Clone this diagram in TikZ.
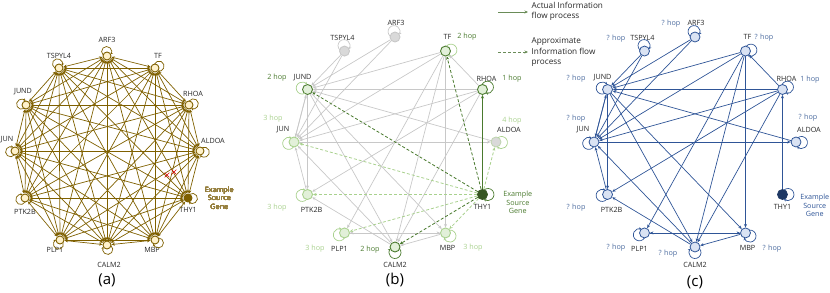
\documentclass[tikz,border=0pt]{standalone}
\usepackage{fontspec}
\setmainfont{Open Sans}
\usetikzlibrary{arrows.meta, positioning, shapes.misc}

\definecolor{gold}{HTML}{7F6000}
\definecolor{goldfill}{HTML}{FFF2CC}
\definecolor{goldtext}{HTML}{967F3E}
\definecolor{dgreen}{HTML}{4A7A2E}
\definecolor{srcgreen}{HTML}{375623}
\definecolor{lgreen}{HTML}{A9D18E}
\definecolor{greenfill}{HTML}{E2F0D9}
\definecolor{lgrey}{HTML}{C8C8C8}
\definecolor{greyfill}{HTML}{D9D9D9}
\definecolor{dblue}{HTML}{2F5597}
\definecolor{bluefill}{HTML}{DAE3F3}
\definecolor{navy}{HTML}{1F3864}
\definecolor{hopblue}{HTML}{4A6A9E}
\definecolor{legendgreen}{HTML}{6A8C58}

% gene / angle / loop angle / label dx / label dy  (panels b and c)
\newcommand{\genes}{ARF3/90/100/1/14, TF/60/10/2/14, RHOA/30/25/4/11,
  ALDOA/0/-5/13/12, MBP/-60/-35/2/-15, CALM2/-90/-90/0/-18,
  PLP1/-120/-160/-5/-16, PTK2B/-150/190/4/-15, JUN/180/195/-11/12,
  JUND/150/165/-5/12, TSPYL4/120/95/-2/13}
% links shared by panels b and c
\newcommand{\links}{ARF3/JUND, ARF3/JUN, TSPYL4/JUND, TSPYL4/JUN, TF/JUND,
  TF/JUN, TF/PLP1, TF/CALM2, TF/MBP, RHOA/TF, RHOA/JUND, RHOA/JUN,
  RHOA/PTK2B, RHOA/CALM2, ALDOA/JUND, JUN/ALDOA, JUND/JUN, JUN/JUND,
  JUND/PTK2B, PTK2B/JUN, JUND/MBP, JUND/CALM2, CALM2/JUN, CALM2/PTK2B,
  MBP/CALM2, PLP1/MBP, MBP/PLP1}
% self loop: node, direction, loop radius, offset
\newcommand{\selfloop}[5][]{%
  \pgfmathsetmacro\ls{#3+130}\pgfmathsetmacro\le{#3-130}%
  \draw[#1] (#2) ++(#3:#5) ++(\ls:#4) arc[start angle=\ls, end angle=\le, radius=#4];}

\begin{document}
\begin{tikzpicture}[
  x=1pt, y=1pt,
  font=\fontsize{7.2}{8.6}\selectfont,
  lbl/.style={inner sep=0.5pt, text=black!85},
  tip/.style={-{Stealth[length=3.5pt,width=3pt]}},
  anode/.style={circle, draw=gold, fill=goldfill, line width=0.9pt, minimum size=8pt, inner sep=0pt},
  aedge/.style={{Stealth[length=3.5pt,width=3pt]}-{Stealth[length=3.5pt,width=3pt]}, draw=gold, line width=0.7pt},
  aloop/.style={-{Stealth[length=2.5pt,width=2.5pt]}, draw=gold, line width=0.7pt},
  bnode/.style={circle, minimum size=10pt, inner sep=0pt, line width=0.9pt},
  h0/.style={draw=lgrey, fill=greyfill},
  h1/.style={draw=dgreen, fill=greenfill},
  h3/.style={draw=lgreen, fill=greenfill},
  h4/.style={draw=lgreen!50!greyfill, fill=greyfill},
  bedge/.style={tip, draw=lgrey, line width=0.7pt},
  bloop/.style={-{Stealth[length=2.5pt,width=2.5pt]}, line width=0.7pt},
  bsolid/.style={tip, draw=dgreen, line width=0.9pt},
  bdashed/.style={tip, dashed, dash pattern=on 3pt off 2pt, line width=0.8pt},
  cnode/.style={circle, draw=dblue, fill=bluefill, minimum size=10pt, inner sep=0pt, line width=0.8pt},
  cedge/.style={tip, draw=dblue, line width=0.7pt},
  xmark/.style={cross out, draw=red!85!black, line width=0.6pt, minimum size=4pt, inner sep=0pt},
  caption/.style={font=\fontsize{15}{18}\selectfont}
]
\useasboundingbox (0,0) rectangle (830,292);

% (a) complete network
\foreach \g/\x/\y/\dx/\dy in {ARF3/107/236/0/16, TF/155/224/3/12,
    RHOA/189/187/4/11, ALDOA/200/141/13/10, MBP/155/52/-3/-10,
    CALM2/107/47/2/-20, PLP1/60/52/-5/-10, PTK2B/25/94/0/-14,
    JUN/15/141/-8/11, JUND/26/187/-3/13, TSPYL4/59/224/0/12} {
  \node[anode] (a\g) at (\x,\y) {};
  \node[lbl, xshift=\dx, yshift=\dy] (al\g) at (a\g) {\g};
}
\node[anode, fill=gold] (aTHY1) at (188,94) {};
\node[lbl, below=4pt of aTHY1] (alTHY1) {THY1};
\foreach \g [count=\i] in {ARF3,TF,RHOA,ALDOA,THY1,MBP,CALM2,PLP1,PTK2B,JUN,JUND,TSPYL4}
  \foreach \h [count=\j] in {ARF3,TF,RHOA,ALDOA,THY1,MBP,CALM2,PLP1,PTK2B,JUN,JUND,TSPYL4} {
    \ifnum\j>\i \draw[aedge] (a\g) -- (a\h); \fi
  }
\foreach \g/\lo in {ARF3/95, TF/25, RHOA/15, ALDOA/-15, THY1/-5, MBP/-40, CALM2/-80,
    PLP1/-110, PTK2B/-160, JUN/190, JUND/170, TSPYL4/110}
  \selfloop[aloop]{a\g}{\lo}{5}{4.5}
\node[right=9pt of aTHY1, align=center, text=goldtext] (asrc) {Example\\Source\\Gene};
\node[xmark] (ax1) at (167,117) {};
\node[xmark] (ax2) at (174,120) {};
\node[caption] (acap) at (107,12) {(a)};

% (b) actual and approximate flow
\begin{scope}[shift={(395,150)}]
\foreach \g/\ang/\lo/\dx/\dy/\st/\lc in {ARF3/90/100/1/14/h0/lgrey, TF/60/10/2/14/h1/lgreen,
    RHOA/30/25/4/11/h1/dgreen, ALDOA/0/-5/13/12/h4/lgreen, MBP/-60/-35/2/-15/h3/lgreen,
    CALM2/-90/-90/0/-18/h1/dgreen, PLP1/-120/-160/-5/-16/h3/lgreen,
    PTK2B/-150/190/4/-15/h3/lgreen, JUN/180/195/-11/12/h3/lgreen,
    JUND/150/165/-5/12/h1/lgreen, TSPYL4/120/95/-2/13/h0/lgrey} {
  \node[bnode, \st] (b\g) at (\ang:101 and 105) {};
  \node[lbl, xshift=\dx, yshift=\dy] (bl\g) at (b\g) {\g};
  \selfloop[bloop, draw=\lc]{b\g}{\lo}{6}{5.5}
}
\node[bnode, draw=srcgreen, fill=srcgreen] (bTHY1) at (-30:101 and 105) {};
\node[lbl, below=4pt of bTHY1] (blTHY1) {THY1};
\selfloop[bloop, draw=dgreen]{bTHY1}{0}{6}{5.5}
\end{scope}
\foreach \s/\t in \links \draw[bedge] (b\s) -- (b\t);
\draw[bsolid] (bTHY1) -- (bRHOA);
\foreach \t in {TF,JUND,CALM2} \draw[bdashed, draw=dgreen] (bTHY1) -- (b\t);
\foreach \t in {JUN,PTK2B,PLP1,MBP,ALDOA} \draw[bdashed, draw=lgreen] (bTHY1) -- (b\t);
\foreach \g/\dx/\dy/\txt/\col in {TF/21.5/14/2 hop/dgreen, RHOA/29.5/10.5/1 hop/dgreen,
    ALDOA/16/21/4 hop/lgreen, JUND/-30.5/11.5/2 hop/dgreen, JUN/-21/23/3 hop/lgreen,
    PTK2B/-30.5/-13.5/3 hop/lgreen, PLP1/-29.5/-16/3 hop/lgreen,
    MBP/27.5/-15/3 hop/lgreen, CALM2/-25/-3/2 hop/dgreen}
  \node[lbl, text=\col, xshift=\dx, yshift=\dy] (bh\g) at (b\g) {\txt};
\node[right=12pt of bTHY1, yshift=-8pt, align=center, text=dgreen] (bsrc) {Example\\Source\\Gene};
\node[caption] (bcap) at (395,12) {(b)};

% legend
\coordinate (l1a) at (498,280);
\coordinate (l1b) at (528,280);
\coordinate (l2a) at (498,240);
\coordinate (l2b) at (528,240);
\draw[tip, draw=legendgreen, line width=0.9pt] (l1a) -- (l1b);
\draw[bdashed, draw=legendgreen] (l2a) -- (l2b);
\node[lbl, anchor=west, align=left, font=\fontsize{8.2}{10}\selectfont] (l1t) at (531,281)
  {Actual Information\\flow process};
\node[lbl, anchor=west, align=left, font=\fontsize{8.2}{10.5}\selectfont] (l2t) at (531,240)
  {Approximate\\Information flow\\process};

% (c) unknown hops
\begin{scope}[shift={(695,150)}]
\foreach \g/\ang/\lo/\dx/\dy in \genes {
  \node[cnode] (c\g) at (\ang:101 and 105) {};
  \node[lbl, xshift=\dx, yshift=\dy] (cl\g) at (c\g) {\g};
  \selfloop[bloop, draw=dblue]{c\g}{\lo}{6}{5.5}
}
\node[cnode, fill=navy, draw=navy] (cTHY1) at (-30:101 and 105) {};
\node[lbl, below=4pt of cTHY1] (clTHY1) {THY1};
\selfloop[bloop, draw=dblue]{cTHY1}{0}{6}{5.5}
\end{scope}
\foreach \s/\t in \links \draw[cedge] (c\s) -- (c\t);
\draw[cedge] (cTHY1) -- (cRHOA);
\foreach \g/\dx/\dy/\txt in {ARF3/-24/13/? hop, TSPYL4/-28.5/12/? hop, TF/18.5/13/? hop,
    JUND/-31.5/10.5/? hop, RHOA/27.5/9.5/1 hop, JUN/-18/23/? hop, ALDOA/12/24/? hop,
    PTK2B/-31.5/-13.5/? hop, PLP1/-28.5/-15/? hop, MBP/26.5/-16/? hop, CALM2/-27/-7/? hop}
  \node[lbl, text=hopblue, xshift=\dx, yshift=\dy] (ch\g) at (c\g) {\txt};
\node[right=9pt of cTHY1, yshift=-11pt, align=center, text=dblue] (csrc) {Example\\Source\\Gene};
\node[caption] (ccap) at (695,10) {(c)};
\end{tikzpicture}
\end{document}
